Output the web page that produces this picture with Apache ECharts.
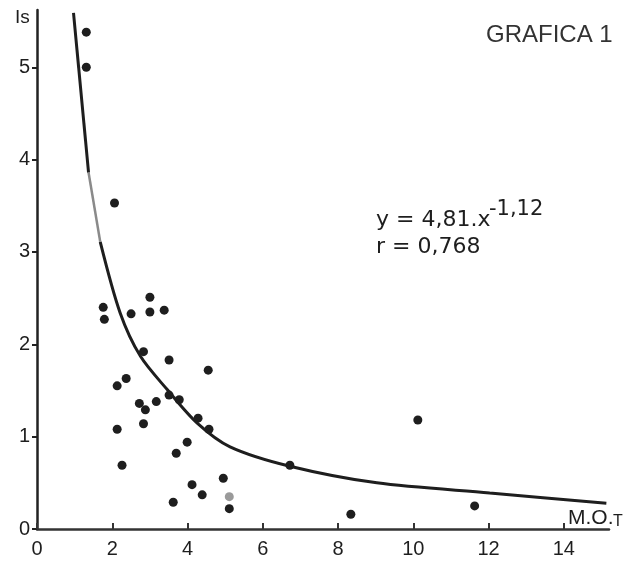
<!DOCTYPE html>
<html>
<head>
<meta charset="utf-8">
<script src="https://cdn.jsdelivr.net/npm/echarts@6/dist/echarts.min.js"></script>
<style>
  html, body { margin: 0; padding: 0; background: #fff; }
  #chart { width: 633px; height: 563px; }
</style>
</head>
<body>
<div id="chart"></div>
<script>
// puntos medidos (M.O.T, Is)
var motValues = [1.31, 1.31, 2.06, 1.76, 1.79, 2.50, 3.00, 3.00, 3.38, 2.83,
    3.51, 4.55, 2.13, 2.37, 2.72, 2.88, 3.17, 3.51, 3.78, 4.28,
    4.57, 2.13, 2.83, 3.99, 3.70, 2.26, 4.95, 4.12, 4.39, 3.62,
    5.11, 6.72, 10.12, 8.34, 11.63];
var isValues = [5.38, 5.00, 3.53, 2.40, 2.27, 2.33, 2.51, 2.35, 2.37, 1.92,
    1.83, 1.72, 1.55, 1.63, 1.36, 1.29, 1.38, 1.45, 1.40, 1.20,
    1.08, 1.08, 1.14, 0.94, 0.82, 0.69, 0.55, 0.48, 0.37, 0.29,
    0.22, 0.69, 1.18, 0.16, 0.25];
// punto gris (borroso)
var fadedX = [5.11];
var fadedY = [0.35];

// curva ajustada
var curveX = [0.97, 1.37, 1.68, 2.21, 2.75, 3.46, 4.25, 5.13, 6.72, 9.03, 12.03, 15.13];
var curveY = [5.59, 3.86, 3.11, 2.34, 1.87, 1.51, 1.15, 0.89, 0.68, 0.50, 0.39, 0.28];

var xTicks = [0, 2, 4, 6, 8, 10, 12, 14];
var yTicks = [0, 1, 2, 3, 4, 5];

var ink = '#1e1e1e';
var font = 'Liberation Sans';
var wide = 'DejaVu Sans';

function pairs(xs, ys, from, to) {
    var out = [];
    for (var i = from; i < to; i++) {
        out.push([xs[i], ys[i]]);
    }
    return out;
}

var chart = echarts.init(document.getElementById('chart'));

var option = {
    animation: false,
    backgroundColor: '#fff',
    grid: { left: 37, right: 24, top: 10, bottom: 34 },
    xAxis: {
        type: 'value',
        min: 0,
        max: 15.2,
        interval: 2,
        splitLine: { show: false },
        axisLine: { lineStyle: { color: '#333', width: 2.5 } },
        axisTick: { inside: true, length: 6, lineStyle: { color: '#333', width: 2 } },
        axisLabel: {
            margin: 10,
            fontSize: 20,
            fontFamily: font,
            color: ink,
            showMaxLabel: false,
            formatter: function (v) { return xTicks.indexOf(v) >= 0 ? String(v) : ''; }
        }
    },
    yAxis: {
        type: 'value',
        min: 0,
        max: 5.62,
        interval: 1,
        splitLine: { show: false },
        axisLine: { lineStyle: { color: '#222', width: 2.5 } },
        axisTick: { length: 5, lineStyle: { color: '#222', width: 2 } },
        axisLabel: {
            margin: 7,
            fontSize: 20,
            fontFamily: font,
            color: ink,
            showMaxLabel: false,
            formatter: function (v) { return yTicks.indexOf(v) >= 0 ? String(v) : ''; }
        }
    },
    series: [
        {
            type: 'line',
            data: pairs(curveX, curveY, 0, 2),
            symbol: 'none',
            lineStyle: { color: ink, width: 3 }
        },
        {
            type: 'line',
            data: pairs(curveX, curveY, 1, 3),
            symbol: 'none',
            lineStyle: { color: '#8a8a8a', width: 2.5 }
        },
        {
            type: 'line',
            data: pairs(curveX, curveY, 2, curveX.length),
            symbol: 'none',
            smooth: 0.3,
            lineStyle: { color: ink, width: 3 }
        },
        {
            type: 'scatter',
            data: pairs(motValues, isValues, 0, motValues.length),
            symbolSize: 9,
            itemStyle: { color: ink, opacity: 1 }
        },
        {
            type: 'scatter',
            data: pairs(fadedX, fadedY, 0, fadedX.length),
            symbolSize: 9,
            itemStyle: { color: '#9a9a9a', opacity: 1 }
        }
    ],
    graphic: [
        { type: 'text', left: 15, top: 8,
          style: { text: 'Is', fontSize: 19, fontFamily: font, fill: ink } },
        { type: 'text', left: 568, top: 508,
          style: { text: 'M.O.', fontSize: 21, fontFamily: font, fill: ink } },
        { type: 'text', left: 613, top: 514,
          style: { text: 'T', fontSize: 16, fontFamily: font, fill: ink } },
        { type: 'text', left: 486, top: 23,
          style: { text: 'GRAFICA 1', fontSize: 24, fontFamily: font, fill: '#333' } },
        { type: 'text', left: 376, top: 209,
          style: { text: 'y = 4,81.x', fontSize: 22, fontFamily: wide, fill: ink } },
        { type: 'text', left: 489, top: 199,
          style: { text: '-1,12', fontSize: 21, fontFamily: wide, fill: ink } },
        { type: 'text', left: 376, top: 236,
          style: { text: 'r = 0,768', fontSize: 22, fontFamily: wide, fill: ink } }
    ]
};

chart.setOption(option);
</script>
</body>
</html>
